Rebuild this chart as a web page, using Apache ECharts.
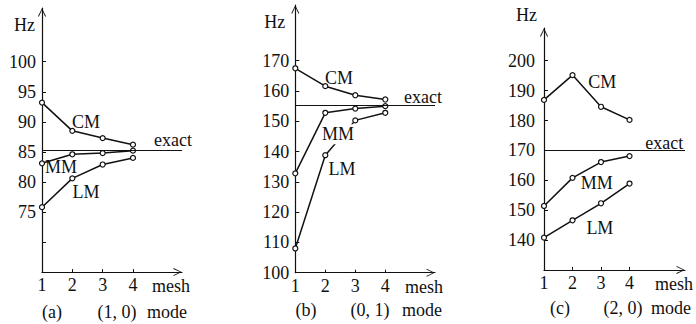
<!DOCTYPE html>
<html><head><meta charset="utf-8">
<script src="https://cdn.jsdelivr.net/npm/echarts@6/dist/echarts.min.js"></script>
<style>html,body{margin:0;padding:0;background:#fff}#c{width:696px;height:324px}</style>
</head><body><div id="c"></div>
<script>
// ---- data ----
const meshes = [1, 2, 3, 4];
const aCM = [93.2, 88.5, 87.3, 86.2];
const aMM = [83.1, 84.6, 84.8, 85.2];
const aLM = [75.8, 80.6, 82.9, 84.0];
const aExact = 85.2;
const bCM = [167.5, 161.6, 158.6, 157.2];
const bMM = [132.8, 152.8, 154.2, 155.0];
const bLM = [108.0, 138.8, 150.3, 152.8];
const bExact = 155.2;
const cCM = [186.9, 195.2, 184.6, 180.2];
const cMM = [151.4, 160.8, 166.1, 168.1];
const cLM = [140.8, 146.6, 152.3, 158.9];
const cExact = 170;
const aTickLabels = [75, 80, 85, 90, 95, 100];
const aTickMarks = [70, 75, 80, 85, 90, 95, 100];
const bTickLabels = [100, 110, 120, 130, 140, 150, 160, 170];
const cTickLabels = [140, 150, 160, 170, 180, 190, 200];
const xTickLabels = [1, 2, 3, 4];
const captionsA = ['(a)', '(1, 0)', 'mode'];
const captionsB = ['(b)', '(0, 1)', 'mode'];
const captionsC = ['(c)', '(2, 0)', 'mode'];

const FONT = 'Liberation Serif';
const FS = 18;
const INK = '#111';
const chevron = 'path://M0,10 L5,0 L10,10 L9,10.4 L5,2 L1,10.4 Z';

function zip(xs, ys) { return xs.map((x, i) => [x, ys[i]]); }

const panels = [
  { grid: { left: 42, top: 8, width: 140, bottom: 51.9 }, xmax: 5.616, ymin: 65, ymax: 108.94,
    labels: aTickLabels, marks: aTickMarks, lm: 6, CM: aCM, MM: aMM, LM: aLM, exact: aExact,
    hzPad: 7, hzGap: -17,
    cmAt: [2.45, 89.9], mmAt: [1.63, 82.5], lmAt: [2.45, 78.3], exAt: [5.32, 86.9], bgMM: false },
  { grid: { left: 295.3, top: 5, width: 139.7, bottom: 51.3 }, xmax: 5.657, ymin: 100, ymax: 188.4,
    labels: bTickLabels, marks: bTickLabels, lm: 6, CM: bCM, MM: bMM, LM: bLM, exact: bExact,
    hzPad: 10, hzGap: -17,
    cmAt: [2.46, 164.3], mmAt: [2.42, 145.7], lmAt: [2.56, 134.4], exAt: [5.26, 158.0], bgMM: true },
  { grid: { left: 544, top: 28, width: 150, bottom: 54.1 }, xmax: 5.946, ymin: 130, ymax: 210.96,
    labels: cTickLabels, marks: cTickLabels, lm: 9, CM: cCM, MM: cMM, LM: cLM, exact: cExact,
    hzPad: 7, hzGap: 13,
    cmAt: [3.04, 193], mmAt: [2.85, 159.1], lmAt: [2.96, 144.1], exAt: [5.22, 172.4], bgMM: false }
];

const grids = [], xAxes = [], yAxes = [], series = [];
panels.forEach((p, i) => {
  grids.push(Object.assign({ containLabel: false }, p.grid));
  xAxes.push({
    type: 'value', gridIndex: i, min: 1, max: p.xmax,
    name: 'mesh', nameLocation: 'end', nameGap: -30,
    nameTextStyle: { fontFamily: FONT, fontSize: FS, color: INK, verticalAlign: 'top', padding: [5, 0, 0, 0] },
    axisLine: { show: true, lineStyle: { color: INK, width: 1.2 }, symbol: ['none', chevron], symbolSize: [8, 9], symbolOffset: [0, -4.5] },
    axisTick: { show: true, inside: true, length: 3, lineStyle: { color: INK }, customValues: xTickLabels },
    axisLabel: { color: INK, fontFamily: FONT, fontSize: FS, margin: 4, customValues: xTickLabels },
    splitLine: { show: false }
  });
  yAxes.push({
    type: 'value', gridIndex: i, min: p.ymin, max: p.ymax,
    name: 'Hz', nameLocation: 'end', nameGap: p.hzGap,
    nameTextStyle: { fontFamily: FONT, fontSize: FS, color: INK, align: 'right', verticalAlign: 'middle', padding: [0, p.hzPad, 0, 0] },
    axisLine: { show: true, lineStyle: { color: INK, width: 1.2 }, symbol: ['none', chevron], symbolSize: [8, 9], symbolOffset: [0, -4.5] },
    axisTick: { show: true, inside: true, length: 4, lineStyle: { color: INK }, customValues: p.marks },
    axisLabel: { color: INK, fontFamily: FONT, fontSize: FS, margin: p.lm, customValues: p.labels },
    splitLine: { show: false }
  });
  const lbl = (txt, at, bg) => ({
    coord: at, symbol: 'circle', symbolSize: 0, value: txt,
    label: { show: true, position: 'inside', formatter: txt, color: INK, fontFamily: FONT, fontSize: FS,
      backgroundColor: bg ? '#fff' : 'transparent', padding: bg ? [1, 1] : 0 }
  });
  const lineSeries = (name, vals, at, bg) => ({
    type: 'line', name, xAxisIndex: i, yAxisIndex: i, data: zip(meshes, vals),
    symbol: 'circle', symbolSize: 5, showAllSymbol: true,
    itemStyle: { color: '#fff', borderColor: INK, borderWidth: 1.2 },
    lineStyle: { color: INK, width: 1.5 },
    markPoint: { silent: true, data: [lbl(name, at, bg)], itemStyle: { color: 'transparent' } },
    z: 3
  });
  series.push(lineSeries('LM', p.LM, p.lmAt, false));
  series.push(lineSeries('MM', p.MM, p.mmAt, p.bgMM));
  series.push(lineSeries('CM', p.CM, p.cmAt, false));
  series.push({
    type: 'line', name: 'exact', xAxisIndex: i, yAxisIndex: i, data: [], z: 2,
    markLine: { silent: true, symbol: ['none', 'none'], label: { show: false },
      lineStyle: { color: INK, width: 1.1, type: 'solid' }, data: [{ yAxis: p.exact }] },
    markPoint: { silent: true, data: [lbl('exact', p.exAt, false)], itemStyle: { color: 'transparent' } }
  });
});

const capPos = [
  [[52, 312], [117, 312], [167, 312]],
  [[306, 310], [370, 310], [422, 310]],
  [[560, 308], [623, 308], [671, 308]]
];
const caps = [captionsA, captionsB, captionsC];
const graphic = [];
caps.forEach((arr, i) => arr.forEach((t, j) => {
  graphic.push({ type: 'text', x: capPos[i][j][0], y: capPos[i][j][1],
    style: { text: t, fill: INK, font: FS + 'px "' + FONT + '"', textAlign: 'center', textVerticalAlign: 'middle' } });
}));

const chart = echarts.init(document.getElementById('c'), null, { renderer: 'svg' });
chart.setOption({
  animation: false, backgroundColor: '#fff',
  grid: grids, xAxis: xAxes, yAxis: yAxes, series, graphic
});
</script></body></html>
